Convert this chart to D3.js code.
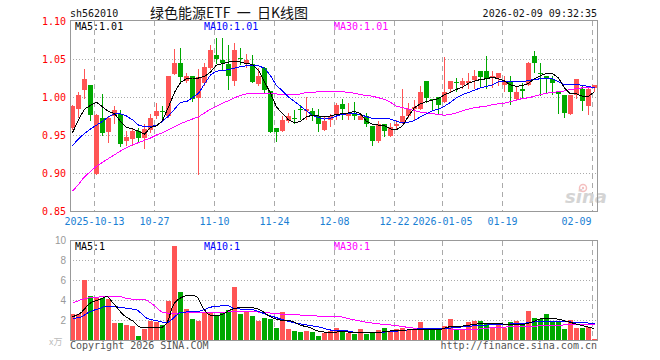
<!DOCTYPE html>
<html>
<head>
<meta charset="utf-8">
<script src="https://cdn.jsdelivr.net/npm/d3@7/dist/d3.min.js"></script>
<style>
body { margin: 0; background: #fff; }
text { font-family: "DejaVu Sans Mono", monospace; font-size: 10px; }
</style>
</head>
<body>
<script>
var opens  = [0.959,0.984,1.010,1.016,0.899,0.973,0.953,0.975,0.978,0.942,0.945,0.955,0.946,0.957,0.974,0.981,0.975,1.031,1.045,1.021,1.028,0.998,1.018,1.038,1.055,1.049,1.044,1.021,1.051,1.045,1.044,1.016,1.038,1.008,0.959,0.955,0.969,0.973,0.984,0.982,0.981,0.975,0.956,0.970,0.977,0.991,0.976,0.977,0.970,0.975,0.962,0.942,0.964,0.949,0.962,0.966,0.975,0.985,0.984,1.021,0.997,1.000,0.994,1.010,1.020,1.016,1.018,1.023,1.034,1.034,1.025,1.026,1.016,1.021,0.998,1.010,1.016,1.054,1.032,1.028,1.024,1.007,1.002,0.977,1.003,1.010,0.987,1.012]
var highs  = [0.989,1.006,1.037,1.016,0.977,1.004,0.975,0.988,0.983,0.955,0.959,0.959,0.964,0.977,0.992,0.988,1.028,1.063,1.064,1.032,1.028,1.037,1.045,1.068,1.077,1.077,1.068,1.071,1.064,1.057,1.055,1.038,1.040,1.008,0.959,0.975,0.979,0.983,0.989,0.9995,0.985,0.984,0.975,0.977,0.992,0.997,0.992,0.994,0.977,0.979,0.962,0.968,0.964,0.966,0.970,1.010,0.992,0.996,1.015,1.021,0.998,1.000,1.052,1.021,1.025,1.025,1.031,1.036,1.034,1.054,1.034,1.032,1.027,1.027,1.014,1.018,1.046,1.061,1.045,1.028,1.027,1.007,1.002,1.002,1.024,1.016,1.014,1.016]
var lows   = [0.957,0.972,0.998,0.969,0.898,0.949,0.940,0.965,0.934,0.936,0.936,0.940,0.932,0.953,0.971,0.970,0.972,1.029,1.020,1.018,0.993,0.897,1.015,1.035,1.044,1.036,1.009,1.014,1.042,1.038,1.018,1.014,1.005,0.952,0.941,0.954,0.966,0.965,0.970,0.970,0.969,0.954,0.955,0.961,0.970,0.970,0.970,0.970,0.970,0.960,0.936,0.939,0.948,0.948,0.957,0.965,0.972,0.970,0.983,0.992,0.981,0.977,0.992,1.007,1.007,1.010,1.010,1.010,1.012,1.010,1.012,1.014,1.006,0.990,0.996,0.997,1.014,1.031,1.001,1.005,1.003,0.978,0.972,0.976,0.997,0.981,0.976,1.006]
var closes = [0.988,1.003,1.024,0.977,0.976,0.953,0.972,0.983,0.939,0.947,0.955,0.946,0.958,0.973,0.981,0.980,1.027,1.045,1.026,1.028,0.998,1.026,1.039,1.062,1.050,1.045,1.028,1.062,1.050,1.049,1.020,1.027,1.009,0.954,0.954,0.970,0.975,0.972,0.983,0.984,0.975,0.965,0.968,0.975,0.989,0.984,0.978,0.975,0.975,0.965,0.942,0.965,0.955,0.961,0.964,0.975,0.984,0.987,1.007,0.999,0.996,0.990,1.007,1.021,1.019,1.021,1.021,1.028,1.026,1.024,1.027,1.032,1.021,1.006,1.007,1.007,1.045,1.045,1.031,1.024,1.019,1.004,0.978,1.002,1.024,0.994,1.010,1.016]
var volumes = [2.6,2.6,6.0,4.4,4.3,4.2,4.1,1.7,1.7,1.5,1.4,0.4,1.1,1.9,1.8,1.5,3.9,9.4,4.8,3.1,2.1,1.9,2.8,2.7,2.5,2.7,3.0,5.3,2.6,2.8,2.4,1.9,2.2,2.1,1.2,2.8,1.1,0.9,0.8,0.9,0.8,0.4,0.7,0.9,1.2,0.8,0.7,0.6,1.1,0.6,0.7,1.0,1.2,0.9,1.1,1.2,1.0,1.0,1.8,1.1,1.1,1.1,1.4,2.1,1.0,1.0,1.8,1.9,1.9,1.7,1.3,1.5,1.2,1.8,1.9,1.5,2.9,2.2,2.1,2.6,1.9,1.8,1.1,2.0,1.2,1.2,1.3,0.1]

var ma5  = [0.953,0.970,0.984,0.989,0.993,0.987,0.981,0.978,0.968,0.960,0.958,0.955,0.951,0.960,0.962,0.969,0.987,1.006,1.019,1.024,1.025,1.025,1.027,1.033,1.042,1.044,1.046,1.047,1.046,1.044,1.043,1.035,1.020,1.005,0.987,0.978,0.970,0.966,0.968,0.974,0.976,0.975,0.974,0.975,0.977,0.978,0.979,0.981,0.978,0.968,0.964,0.963,0.962,0.958,0.957,0.962,0.975,0.986,0.991,0.994,0.996,0.998,1.003,1.006,1.010,1.013,1.018,1.021,1.023,1.024,1.026,1.024,1.021,1.016,1.014,1.015,1.018,1.024,1.028,1.031,1.031,1.025,1.012,1.004,1.004,1.001,1.001,1.007]
var ma10 = [0.936,0.945,0.952,0.958,0.963,0.968,0.974,0.978,0.978,0.975,0.970,0.963,0.961,0.961,0.963,0.968,0.975,0.984,0.993,0.994,0.999,1.005,1.017,1.029,1.034,1.035,1.036,1.038,1.040,1.041,1.042,1.041,1.038,1.028,1.015,1.008,1.000,0.994,0.988,0.982,0.976,0.973,0.971,0.972,0.975,0.977,0.978,0.978,0.977,0.974,0.972,0.972,0.972,0.971,0.968,0.966,0.967,0.969,0.974,0.978,0.982,0.984,0.988,0.993,0.999,1.003,1.006,1.009,1.012,1.014,1.016,1.020,1.021,1.021,1.021,1.020,1.022,1.023,1.024,1.024,1.024,1.020,1.016,1.016,1.017,1.015,1.014,1.012]
var ma30 = [0.876,0.885,0.895,0.902,0.909,0.914,0.919,0.924,0.929,0.933,0.937,0.940,0.943,0.946,0.950,0.953,0.957,0.961,0.965,0.968,0.971,0.974,0.979,0.984,0.988,0.992,0.995,0.999,1.002,1.004,1.005,1.005,1.005,1.004,1.004,1.003,1.003,1.003,1.004,1.006,1.006,1.007,1.007,1.007,1.007,1.007,1.006,1.005,1.003,1.002,1.001,0.999,0.997,0.993,0.988,0.986,0.984,0.982,0.980,0.979,0.978,0.977,0.976,0.977,0.979,0.982,0.984,0.986,0.987,0.988,0.990,0.991,0.992,0.994,0.996,0.998,0.999,1.001,1.003,1.005,1.006,1.007,1.008,1.010,1.011,1.012,1.012,1.013]

var volMa5  = [[0,2.33],[1.3,2.67],[2.9,3.67],[4.6,4.07],[5.7,4.33],[6.8,3.67],[8.5,2.5],[10.2,1.83],[11.3,1.27],[12.9,1.23],[14.6,1.23],[15.7,1.67],[16.8,3.5],[17.9,4.17],[19.6,4.5],[20.7,4.33],[21.8,3.17],[22.9,2.5],[24.6,2.5],[26.3,3.0],[27.9,3.23],[29.6,3.23],[31.3,3.0],[32.9,2.33],[34.6,2.0],[36.3,1.93],[37.9,1.5],[39.6,1.23],[41.3,0.83],[43,0.77],[45.2,0.83],[47.4,0.73],[50.2,0.73],[53,0.9],[55.7,1.0],[58.5,1.07],[61.3,1.07],[62.9,1.33],[65.1,1.4],[67.4,1.6],[69.6,1.67],[71.8,1.6],[74.1,1.5],[76.3,1.73],[78.5,2.17],[80.7,2.1],[82.9,1.77],[85.2,1.4],[87,1.15]]
var volMa10 = [[0,2.17],[1.3,2.27],[2.9,2.83],[4.6,3.17],[5.7,3.4],[7.1,3.33],[9.1,3.17],[10.7,3.0],[12.4,2.17],[14.1,1.93],[15.7,1.73],[16.8,2.17],[17.9,2.73],[19.6,2.83],[21.3,2.9],[22.9,3.27],[24.6,3.4],[25.7,3.5],[26.8,3.17],[28.5,3.07],[30.2,3.0],[31.8,2.67],[33.5,2.33],[35.2,2.0],[36.8,1.73],[39.1,1.5],[41.3,1.27],[43,1.0],[44.6,1.0],[47.4,0.77],[50.2,0.77],[53,0.83],[55.7,1.0],[58.5,1.13],[61.3,1.13],[64.2,1.27],[66.6,1.4],[68.5,1.47],[70.7,1.57],[72.9,1.6],[75.2,1.67],[77.4,1.83],[79.6,1.9],[81.8,1.83],[84.1,1.77],[86.3,1.67],[87,1.6]]
var volMa30 = [[0,3.67],[1.3,4.0],[3.5,4.27],[6.3,4.33],[7.9,4.33],[9,4.17],[10.7,4.07],[11.8,4.07],[13.5,3.5],[15.2,2.73],[16.8,2.67],[19,2.73],[24,2.73],[26.8,2.83],[29.6,2.83],[32.4,2.73],[35.2,2.57],[37.9,2.5],[40.7,2.4],[43,2.4],[44.6,2.33],[46.3,2.1],[48.5,1.83],[51.3,1.6],[54.1,1.43],[56.3,1.23],[58.5,1.13],[61.3,1.13],[64.2,1.07],[66.6,1.0],[68.5,1.17],[70.7,1.23],[72.9,1.33],[75.2,1.4],[77.4,1.4],[79.6,1.43],[81.8,1.5],[84.1,1.57],[87,1.57]]

var tickIdx    = [4, 14, 24, 34, 44, 54, 62, 72, 87]
var tickLabels = ["2025-10-13","10-27","11-10","11-24","12-08","12-22","2026-01-05","01-19","02-09"]
var priceTicks = [0.85, 0.90, 0.95, 1.00, 1.05, 1.10]
var priceGrid  = [0.90, 0.95, 1.00, 1.05]
var volTicks   = [2, 4, 6, 8, 10]
var volGrid    = [2, 4, 6, 8]

var red = "#ff5555"
var green = "#00a800"
var left = 70, right = 597

var x = d3.scaleLinear().domain([0, 87]).range([70, 592])
var y = d3.scaleLinear().domain([0.85, 1.10]).range([211, 21])
var yv = d3.scaleLinear().domain([0, 10]).range([340, 240])

var svg = d3.select("body").append("svg")
.attr("width", 660)
.attr("height", 360)
.style("display", "block")

// header
svg.append("text").attr("x", 70).attr("y", 16.5).attr("fill", "#111").text("sh562010")
svg.append("text").attr("x", 150).attr("y", 17.5)
.style("font-family", "'Noto Sans CJK SC', sans-serif").style("font-size", "14px")
.style("white-space", "pre")
.attr("fill", "#111").text("绿色能源ETF  一  日K线图")
svg.append("text").attr("x", 597).attr("y", 16.5).attr("text-anchor", "end").attr("fill", "#111")
.text("2026-02-09 09:32:35")

function grid(top, bottom, scale, values) {
    var g = svg.append("g")
    g.selectAll(".h").data(values).enter().append("line")
    .attr("x1", left).attr("x2", right)
    .attr("y1", function(d) { return Math.round(scale(d)) + 0.5 })
    .attr("y2", function(d) { return Math.round(scale(d)) + 0.5 })
    .attr("stroke", "#aaa").attr("stroke-dasharray", "1,2")
    g.selectAll(".v").data(tickIdx).enter().append("line")
    .attr("x1", function(d) { return x(d) + 0.5 })
    .attr("x2", function(d) { return x(d) + 0.5 })
    .attr("y1", top).attr("y2", bottom)
    .attr("stroke", "#aaa").attr("stroke-dasharray", "5,4")
}

grid(21, 211, y, priceGrid)
grid(241, 340, yv, volGrid)

// watermark
var wm = svg.append("g").attr("transform", "translate(565,203)")
wm.append("text").attr("x", 0).attr("y", 0)
.style("font-family", "'DejaVu Sans', sans-serif").style("font-size", "18px")
.style("font-weight", "bold").style("font-style", "italic")
.attr("fill", "#d4d4d4").text("sina")
wm.append("circle").attr("cx", 18).attr("cy", -15).attr("r", 3.5).attr("fill", "none")
.attr("stroke", "#f4c0c0").attr("stroke-width", 1.5)
wm.append("circle").attr("cx", 18).attr("cy", -15).attr("r", 1.2).attr("fill", "#f4c0c0")

// candles
var idx = d3.range(opens.length)
var cg = svg.append("g").attr("shape-rendering", "crispEdges")
cg.selectAll("line").data(idx).enter().append("line")
.attr("x1", function(i) { return x(i) + 2.5 })
.attr("x2", function(i) { return x(i) + 2.5 })
.attr("y1", function(i) { return y(highs[i]) })
.attr("y2", function(i) { return y(lows[i]) })
.attr("stroke", function(i) { return closes[i] >= opens[i] ? red : green })
cg.selectAll("rect").data(idx).enter().append("rect")
.attr("x", function(i) { return x(i) })
.attr("width", 5)
.attr("y", function(i) { return Math.round(y(Math.max(opens[i], closes[i]))) })
.attr("height", function(i) { return Math.max(1, Math.round(Math.abs(y(opens[i]) - y(closes[i])))) })
.attr("fill", function(i) { return closes[i] >= opens[i] ? red : green })

// volume bars
svg.append("g").attr("shape-rendering", "crispEdges")
.selectAll("rect").data(idx).enter().append("rect")
.attr("x", function(i) { return x(i) })
.attr("width", 5)
.attr("y", function(i) { return Math.round(yv(volumes[i])) })
.attr("height", function(i) { return 340 - Math.round(yv(volumes[i])) })
.attr("fill", function(i) { return closes[i] >= opens[i] ? red : green })

// moving averages
var priceLine = d3.line().x(function(d, i) { return x(i) + 2.5 }).y(function(d) { return y(d) })
var volLine = d3.line().x(function(d) { return x(d[0]) + 2.5 }).y(function(d) { return yv(d[1]) })
.curve(d3.curveMonotoneX)

var maSets = [[ma30, "#ff00ff"], [ma10, "#0000ff"], [ma5, "#000000"]]
maSets.forEach(function(m) {
    svg.append("path").attr("d", priceLine(m[0])).attr("fill", "none")
    .attr("stroke", m[1]).attr("stroke-width", 1).attr("shape-rendering", "crispEdges")
})
var volSets = [[volMa30, "#ff00ff"], [volMa10, "#0000ff"], [volMa5, "#000000"]]
volSets.forEach(function(m) {
    svg.append("path").attr("d", volLine(m[0])).attr("fill", "none")
    .attr("stroke", m[1]).attr("stroke-width", 1).attr("shape-rendering", "crispEdges")
})

// frames
svg.append("rect").attr("x", 70.5).attr("y", 20.5).attr("width", 527).attr("height", 191)
.attr("fill", "none").attr("stroke", "#999")
svg.append("rect").attr("x", 70.5).attr("y", 240.5).attr("width", 527).attr("height", 100)
.attr("fill", "none").attr("stroke", "#999")

// axes
var yAxis = svg.append("g").attr("transform", "translate(70,0)")
.call(d3.axisLeft(y).tickValues(priceTicks).tickSize(0).tickPadding(4).tickFormat(d3.format(".2f")))
yAxis.select(".domain").remove()
yAxis.selectAll("text").attr("fill", "#f00").style("font-family", "'DejaVu Sans Mono', monospace").style("font-size", "10px")

var vAxis = svg.append("g").attr("transform", "translate(70,0)")
.call(d3.axisLeft(yv).tickValues(volTicks).tickSize(0).tickPadding(4).tickFormat(d3.format("d")))
vAxis.select(".domain").remove()
vAxis.selectAll("text").attr("fill", "#999").style("font-family", "'Liberation Sans', Arial, sans-serif").style("font-size", "10px")

var xAxis = svg.append("g").attr("transform", "translate(0,211)")
.call(d3.axisBottom(x).tickValues(tickIdx).tickSize(0).tickPadding(7)
.tickFormat(function(d, i) { return tickLabels[i] }))
xAxis.select(".domain").remove()
xAxis.selectAll("text").attr("fill", "#1a80d4").style("font-family", "'DejaVu Sans Mono', monospace").style("font-size", "10px")
xAxis.selectAll("text").filter(function(d) { return d == 87 })
.attr("text-anchor", "end").attr("x", -1)

// labels
var maLabels = [["MA5:1.01", 75, "#000"], ["MA10:1.01", 204, "#0000ff"], ["MA30:1.01", 334, "#ff00ff"]]
maLabels.forEach(function(l) {
    svg.append("text").attr("x", l[1]).attr("y", 29.5).attr("fill", l[2]).text(l[0])
})
var volLabels = [["MA5:1", 75, "#000"], ["MA10:1", 204, "#0000ff"], ["MA30:1", 334, "#ff00ff"]]
volLabels.forEach(function(l) {
    svg.append("text").attr("x", l[1]).attr("y", 249.5).attr("fill", l[2]).text(l[0])
})

svg.append("text").attr("x", 49).attr("y", 344.5).attr("fill", "#bbb")
.style("font-family", "'Noto Sans CJK SC', sans-serif").style("font-size", "9px").text("x万")
svg.append("text").attr("x", 70).attr("y", 349).attr("fill", "#555").text("Copyright 2026 SINA.COM")
svg.append("text").attr("x", 597).attr("y", 349).attr("text-anchor", "end").attr("fill", "#555")
.text("http://finance.sina.com.cn")
</script>
</body>
</html>
